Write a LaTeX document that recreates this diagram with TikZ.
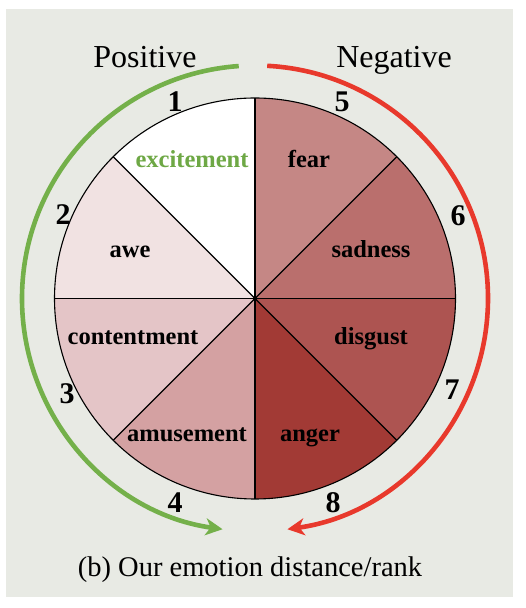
\documentclass[tikz,border=0pt]{standalone}
\usepackage{fontspec}
\setmainfont{Liberation Serif}
\usetikzlibrary{arrows.meta}
\definecolor{bg}{HTML}{E8EAE4}
\definecolor{posgreen}{HTML}{74B04A}
\definecolor{negred}{HTML}{E8392C}
\definecolor{cawe}{HTML}{F1E2E2}
\definecolor{ccont}{HTML}{E4C5C7}
\definecolor{camus}{HTML}{D4A1A2}
\definecolor{cfear}{HTML}{C58785}
\definecolor{csad}{HTML}{BA6F6D}
\definecolor{cdisg}{HTML}{AD5451}
\definecolor{canger}{HTML}{A23A35}
\definecolor{txgreen}{HTML}{6EA845}
\tikzset{
  emo/.style={anchor=base, inner sep=0pt, font=\fontsize{24.5}{27}\selectfont\bfseries},
  rank/.style={anchor=base, inner sep=0pt, font=\fontsize{30}{33}\selectfont\bfseries},
  head/.style={anchor=base, inner sep=0pt, font=\fontsize{32}{36}\selectfont},
  capt/.style={anchor=base, inner sep=0pt, font=\fontsize{28.5}{32}\selectfont},
  divider/.style={draw=black, line width=1.1pt},
  flow/.style={line width=4.6pt, -{Stealth[length=17pt,width=17pt,inset=5pt]}}
}
\begin{document}
\begin{tikzpicture}[x=1pt,y=1pt]
\useasboundingbox (0,0) rectangle (526,608);
\fill[bg] (6,11) rectangle (513,599);
\coordinate (C) at (255,309.5);
\def\R{200.5}
% sectors
\fill[white]  (C) -- ++(90:\R)  arc[start angle=90,  end angle=135, radius=\R] -- cycle;
\fill[cawe]   (C) -- ++(135:\R) arc[start angle=135, end angle=180, radius=\R] -- cycle;
\fill[ccont]  (C) -- ++(180:\R) arc[start angle=180, end angle=225, radius=\R] -- cycle;
\fill[camus]  (C) -- ++(225:\R) arc[start angle=225, end angle=270, radius=\R] -- cycle;
\fill[cfear]  (C) -- ++(45:\R)  arc[start angle=45,  end angle=90,  radius=\R] -- cycle;
\fill[csad]   (C) -- ++(0:\R)   arc[start angle=0,   end angle=45,  radius=\R] -- cycle;
\fill[cdisg]  (C) -- ++(-45:\R) arc[start angle=-45, end angle=0,   radius=\R] -- cycle;
\fill[canger] (C) -- ++(-90:\R) arc[start angle=-90, end angle=-45, radius=\R] -- cycle;
\foreach \a in {0,45,...,315} \draw[divider] (C) -- ++(\a:\R);
\draw[divider] (C) circle[radius=\R];
\fill[black] (C) circle[radius=2.2pt];
% arcs
\draw[flow, posgreen] (C) ++(94:233) arc[start angle=94, end angle=262, radius=233];
\draw[flow, negred] (C) ++(87:233) arc[start angle=87, end angle=-82, radius=233];
% headings
\node[head] (pos) at (145,540) {Positive};
\node[head] (neg) at (394,540) {Negative};
% emotion labels
\node[emo, text=txgreen] (exc) at (192,440) {excitement};
\node[emo] (awe) at (130,350) {awe};
\node[emo] (cont) at (133,263) {contentment};
\node[emo] (amus) at (187,166) {amusement};
\node[emo] (fear) at (309,440) {fear};
\node[emo] (sad) at (371,350) {sadness};
\node[emo] (disg) at (371,263) {disgust};
\node[emo] (ang) at (310,166) {anger};
% ranks
\node[rank] (r1) at (175,496) {1};
\node[rank] (r2) at (63,383) {2};
\node[rank] (r3) at (67,204) {3};
\node[rank] (r4) at (175,95) {4};
\node[rank] (r5) at (342,496) {5};
\node[rank] (r6) at (458,382) {6};
\node[rank] (r7) at (452,208) {7};
\node[rank] (r8) at (333,95) {8};
% caption
\node[capt] (cap) at (250,31) {(b) Our emotion distance/rank};
\end{tikzpicture}
\end{document}
